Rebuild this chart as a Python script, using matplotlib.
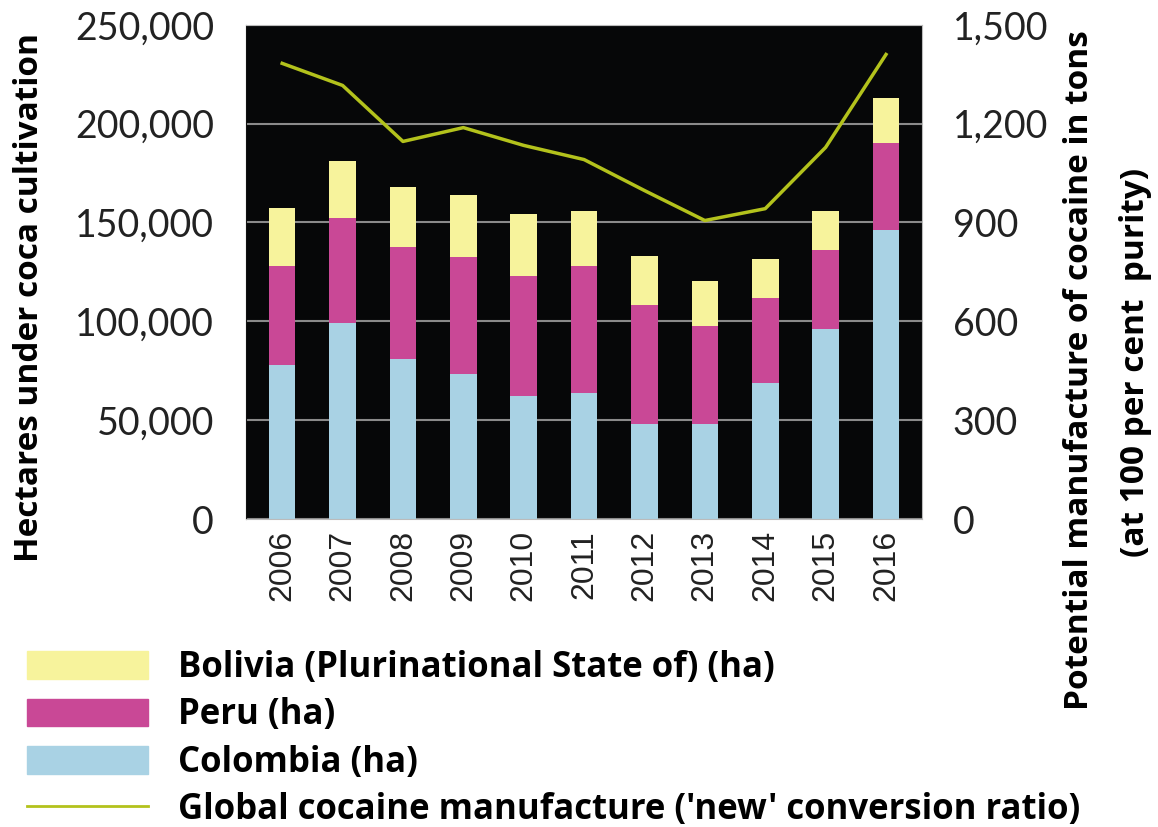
import matplotlib.pyplot as plt
from matplotlib.patches import Patch
from matplotlib.lines import Line2D

years = ['2006', '2007', '2008', '2009', '2010', '2011', '2012', '2013', '2014', '2015', '2016']
colombia = [78000, 99000, 81000, 73500, 62000, 63500, 48000, 48000, 69000, 96000, 146000]
peru = [50000, 53500, 56500, 59000, 61000, 64500, 60500, 49500, 43000, 40000, 44000]
bolivia = [29500, 28500, 30500, 31500, 31500, 28000, 24500, 23000, 19500, 20000, 23000]
cocaine_tons = [1383, 1316, 1146, 1188, 1134, 1091, 997, 906, 942, 1128, 1410]

c_col = '#a9d2e4'
c_per = '#c94896'
c_bol = '#f7f39c'
c_line = '#b3c21c'

plt.rcParams['font.family'] = ['Lato', 'DejaVu Sans']
bold_font = {'family': ['Open Sans', 'DejaVu Sans'], 'weight': 'bold', 'size': 24}

fig = plt.figure(figsize=(11.58, 8.27), dpi=100)
ax = fig.add_axes([0.2124, 0.3724, 0.584, 0.5976])
ax.set_facecolor('#060708')

x = range(len(years))
ax.yaxis.grid(True, color='#8a8a8a', linewidth=1.5)
ax.set_axisbelow(True)
ax.bar(x, colombia, width=0.44, color=c_col, zorder=2)
ax.bar(x, peru, width=0.44, bottom=colombia, color=c_per, zorder=2)
bot2 = [a + b for a, b in zip(colombia, peru)]
ax.bar(x, bolivia, width=0.44, bottom=bot2, color=c_bol, zorder=2)

ax.set_ylim(0, 250000)
ax.set_xlim(-0.6, 10.6)
ax.set_yticks(range(0, 250001, 50000))
ax.set_yticklabels(['{:,}'.format(v) for v in range(0, 250001, 50000)])
ax.set_xticks(list(x))
ax.set_xticklabels(years, rotation=90, family=['Liberation Sans', 'DejaVu Sans'], fontsize=23)
ax.tick_params(length=0, colors='#222222')
ax.tick_params(axis='y', pad=23, labelsize=27)
ax.tick_params(axis='x', pad=8)
for s in ['top', 'right', 'bottom']:
    ax.spines[s].set_color('#bbbbbb')
ax.spines['left'].set_color('#111111')

ax2 = ax.twinx()
ax2.plot(list(x), cocaine_tons, color=c_line, linewidth=2.5, zorder=3)
ax2.set_ylim(0, 1500)
ax2.set_yticks(range(0, 1501, 300))
ax2.set_yticklabels(['{:,}'.format(v) for v in range(0, 1501, 300)])
ax2.tick_params(length=0, labelsize=27, colors='#222222', pad=22)
for s in ['top', 'right', 'bottom', 'left']:
    ax2.spines[s].set_visible(False)

fig.text(30 / 1158, 1 - 297 / 827, 'Hectares under coca cultivation', rotation=90,
         ha='center', va='center', fontdict=bold_font)
fig.text(1080 / 1158, 1 - 370 / 827, 'Potential manufacture of cocaine in tons', rotation=90,
         ha='center', va='center', fontdict=bold_font)
fig.text(1135 / 1158, 1 - 362 / 827, '(at 100 per cent  purity)', rotation=90,
         ha='center', va='center', fontdict=bold_font)

handles = [Patch(color=c_bol), Patch(color=c_per), Patch(color=c_col),
           Line2D([], [], color=c_line, linewidth=2)]
labels = ['Bolivia (Plurinational State of) (ha)', 'Peru (ha)', 'Colombia (ha)',
          "Global cocaine manufacture ('new' conversion ratio)"]
fig.legend(handles, labels, loc='upper left', bbox_to_anchor=(0.023, 0.214),
           frameon=False, prop={'family': ['Open Sans', 'DejaVu Sans'], 'size': 25, 'weight': 'bold'},
           handlelength=3.5, handleheight=0.86, labelspacing=0.33, handletextpad=0.86,
           borderpad=0, borderaxespad=0)

fig.savefig('out.png', dpi=100)
